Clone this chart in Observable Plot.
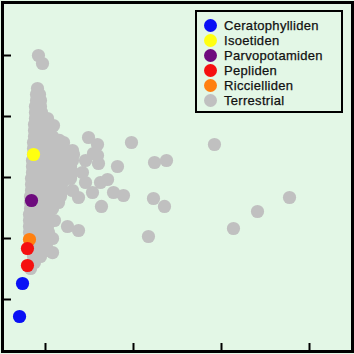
<!DOCTYPE html>
<html>
<head>
<meta charset="utf-8">
<script src="https://cdn.jsdelivr.net/npm/d3@7"></script>
<script src="https://cdn.jsdelivr.net/npm/@observablehq/plot@0.6"></script>
<style>
  html, body { margin: 0; padding: 0; background: #e3f7e6; }
  #wrap { position: relative; width: 354px; height: 354px; }
  #legend {
    position: absolute; left: 195px; top: 10px; width: 144px; height: 99px;
    border: 2px solid #000; background: #e3f7e6;
    font-family: "Liberation Sans", Arial, sans-serif; font-size: 13px; color: #111;
  }
  .row { position: absolute; left: 0; height: 15px; line-height: 15px; white-space: nowrap; }
  .sw { position: absolute; left: 7px; top: 1px; width: 13px; height: 13px; border-radius: 50%; }
  .lb { position: absolute; left: 27px; top: 0; letter-spacing: 0.3px; -webkit-text-stroke: 0.25px #111; }
</style>
</head>
<body>
<div id="wrap"></div>
<script>
// Categories and colours
const categories = ["Ceratophylliden", "Isoetiden", "Parvopotamiden", "Pepliden", "Riccielliden", "Terrestrial"];
const colors = ["#0a10f5", "#ffff10", "#6e0b7e", "#f51010", "#ff8010", "#c0c0c0"];

// Axis ticks (unlabelled)
const xTicks = [1, 2, 3, 4];
const yTicks = [1, 2, 3, 4, 5];

// Aquatic groups
const ceratoX = [0.739, 0.705];
const ceratoY = [1.262, 0.721];
const isoetX = [0.864];
const isoetY = [3.377];
const parvoX = [0.841];
const parvoY = [2.623];
const peplX = [0.795, 0.795];
const peplY = [1.836, 1.557];
const riccX = [0.818];
const riccY = [1.984];

// Terrestrial
const terrX = [
  0.920, 0.966, 1.489, 1.591, 1.977, 2.920, 1.818, 2.239, 2.375, 1.705,
  1.773, 1.886, 2.227, 2.352, 3.773, 3.409, 3.136, 2.170, 1.636, 1.250,
  1.375, 1.080, 0.830, 1.625, 1.455, 1.591, 1.602, 1.545, 1.534, 1.375,
  1.420, 1.205, 1.455, 1.307, 1.159, 1.091,
  0.909,
  0.898, 0.932,
  0.898, 0.943,
  0.886, 0.943,
  0.886, 0.955,
  0.886, 0.966, 1.023,
  0.875, 0.966, 1.034,
  0.875, 0.955, 1.023,
  0.875, 0.966, 1.080,
  0.864, 0.955, 1.057, 1.205,
  0.864, 0.966, 1.080, 1.193,
  0.864, 0.966, 1.080, 1.193, 1.318,
  0.852, 0.966, 1.080, 1.193, 1.307,
  0.852, 0.966, 1.080, 1.193, 1.284,
  0.852, 0.966, 1.080, 1.193, 1.307,
  0.841, 0.955, 1.068, 1.182, 1.284,
  0.841, 0.955, 1.068, 1.170,
  0.841, 0.955, 1.068, 1.193, 1.307,
  0.830, 0.943, 1.057, 1.170,
  0.830, 0.943, 1.057, 1.148,
  0.830, 0.943, 1.080,
  0.818, 0.920, 1.023,
  0.818, 0.920, 1.034, 1.102,
  0.818, 0.920, 1.023,
  0.818, 0.920, 1.034,
  0.830, 0.920, 1.023, 1.080,
  0.830, 0.920, 1.011,
  0.841, 0.932, 1.023,
  0.864, 0.943,
  0.875
];
const terrY = [
  5.000, 4.869, 3.656, 3.541, 3.574, 3.541, 3.180, 3.246, 3.279, 2.967,
  2.754, 2.705, 2.656, 2.525, 2.672, 2.443, 2.164, 2.033, 2.525, 2.197,
  2.131, 1.770, 1.508, 2.918, 3.279, 3.361, 3.230, 3.393, 2.754, 2.672,
  3.082, 2.951, 2.918, 3.443, 3.607, 3.852,
  4.459,
  4.361, 4.361,
  4.262, 4.262,
  4.164, 4.164,
  4.066, 4.066,
  3.967, 3.967, 3.967,
  3.869, 3.869, 3.869,
  3.770, 3.770, 3.770,
  3.672, 3.672, 3.672,
  3.574, 3.574, 3.574, 3.574,
  3.475, 3.475, 3.475, 3.475,
  3.377, 3.377, 3.377, 3.377, 3.377,
  3.279, 3.279, 3.279, 3.279, 3.279,
  3.180, 3.180, 3.180, 3.180, 3.180,
  3.082, 3.082, 3.082, 3.082, 3.082,
  2.984, 2.984, 2.984, 2.984, 2.984,
  2.885, 2.885, 2.885, 2.885,
  2.787, 2.787, 2.787, 2.787, 2.787,
  2.689, 2.689, 2.689, 2.689,
  2.590, 2.590, 2.590, 2.590,
  2.492, 2.492, 2.492,
  2.393, 2.393, 2.393,
  2.295, 2.295, 2.295, 2.295,
  2.197, 2.197, 2.197,
  2.098, 2.098, 2.098,
  2.000, 2.000, 2.000, 2.000,
  1.902, 1.902, 1.902,
  1.803, 1.803, 1.803,
  1.705, 1.705,
  1.607
];

const toRows = (xs, ys, g) => xs.map((x, i) => ({x, y: ys[i], g}));
const terr = toRows(terrX, terrY, "Terrestrial");
const aquatic = [
  ...toRows(ceratoX, ceratoY, "Ceratophylliden"),
  ...toRows(isoetX, isoetY, "Isoetiden"),
  ...toRows(parvoX, parvoY, "Parvopotamiden"),
  ...toRows(riccX, riccY, "Riccielliden"),
  ...toRows(peplX, peplY, "Pepliden")
];

const chart = Plot.plot({
  width: 354,
  height: 354,
  marginLeft: 2, marginRight: 2, marginTop: 2, marginBottom: 3,
  style: { background: "#e3f7e6", overflow: "visible" },
  x: { domain: [0.5114, 4.4886], axis: null },
  y: { domain: [0.1475, 5.8689], axis: null },
  color: { domain: categories, range: colors },
  marks: [
    Plot.dot(terr, { x: "x", y: "y", r: 6.6, fill: d => d.g }),
    Plot.dot(aquatic, { x: "x", y: "y", r: 6.6, fill: d => d.g }),
    Plot.axisX({ ticks: xTicks, tickSize: 8, dy: -8, tickFormat: () => "", label: null, strokeWidth: 2, stroke: "#000" }),
    Plot.axisY({ ticks: yTicks, tickSize: 9, dx: 9, tickFormat: () => "", label: null, strokeWidth: 2, stroke: "#000" }),
    Plot.frame({ stroke: "#000", strokeWidth: 3 })
  ]
});

const wrap = document.getElementById("wrap");
wrap.appendChild(chart);

const legend = document.createElement("div");
legend.id = "legend";
const rowTops = [6, 21, 36, 51, 66, 81];
categories.forEach((c, i) => {
  const row = document.createElement("div");
  row.className = "row";
  row.style.top = rowTops[i] + "px";
  const sw = document.createElement("span");
  sw.className = "sw";
  sw.style.background = colors[i];
  const lb = document.createElement("span");
  lb.className = "lb";
  lb.textContent = c;
  row.appendChild(sw);
  row.appendChild(lb);
  legend.appendChild(row);
});
wrap.appendChild(legend);
</script>
</body>
</html>
